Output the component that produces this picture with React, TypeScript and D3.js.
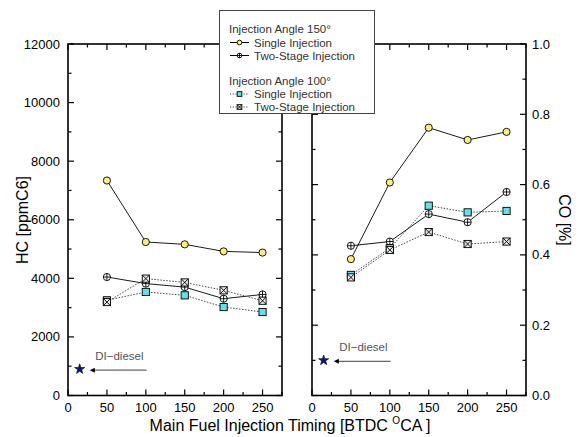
import React from "react";
import * as d3 from "d3";

const timings = [50, 100, 150, 200, 250];
const hcSingle150 = [7340, 5240, 5160, 4920, 4880];
const hcTwo150 = [4045, 3820, 3700, 3305, 3450];
const hcSingle100 = [3250, 3535, 3420, 3020, 2850];
const hcTwo100 = [3190, 3990, 3860, 3590, 3235];
const coSingle150 = [0.388, 0.606, 0.762, 0.727, 0.75];
const coTwo150 = [0.426, 0.438, 0.516, 0.493, 0.579];
const coSingle100 = [0.343, 0.419, 0.54, 0.521, 0.525];
const coTwo100 = [0.336, 0.414, 0.465, 0.431, 0.438];
const diesel = { x: 15, hc: 900, co: 0.1 };
const xTicks = [0, 50, 100, 150, 200, 250];
const hcTicks = [0, 2000, 4000, 6000, 8000, 10000, 12000];
const coTicks = [0, 0.2, 0.4, 0.6, 0.8, 1.0];

const FONT = "'Liberation Sans', Arial, sans-serif";
const W = 583, H = 437;
const top = 44, bottom = 395.5;

type Kind = "circle" | "circlePlus" | "square" | "squareX";

function Marker({ kind, x, y, s = 1 }: { kind: Kind; x: number; y: number; s?: number }) {
  const r = 3.6 * s;
  if (kind === "circle")
    return <circle cx={x} cy={y} r={r} fill="#f7f07a" stroke="#000" strokeWidth={0.9} />;
  if (kind === "circlePlus")
    return (
      <g>
        <circle cx={x} cy={y} r={r} fill="#fff" stroke="#000" strokeWidth={0.9} />
        <line x1={x - r} x2={x + r} y1={y} y2={y} stroke="#000" strokeWidth={0.9} />
        <line x1={x} x2={x} y1={y - r} y2={y + r} stroke="#000" strokeWidth={0.9} />
      </g>
    );
  if (kind === "square")
    return <rect x={x - r} y={y - r} width={2 * r} height={2 * r} fill="#5fe3e8" stroke="#000" strokeWidth={0.9} />;
  return (
    <g>
      <rect x={x - r} y={y - r} width={2 * r} height={2 * r} fill="#e8e8e8" stroke="#000" strokeWidth={0.9} />
      <line x1={x - r} x2={x + r} y1={y - r} y2={y + r} stroke="#000" strokeWidth={0.9} />
      <line x1={x - r} x2={x + r} y1={y + r} y2={y - r} stroke="#000" strokeWidth={0.9} />
    </g>
  );
}

function Panel({
  x0, x1, yMax, series, yTicks, minorStep, labelsLeft, star, fmt,
}: {
  x0: number; x1: number; yMax: number;
  series: { vals: number[]; kind: Kind; dotted: boolean }[];
  yTicks: number[]; minorStep: number; labelsLeft: boolean; star: number;
  fmt: (v: number) => string;
}) {
  const xs = d3.scaleLinear().domain([0, 275]).range([x0, x1]);
  const ys = d3.scaleLinear().domain([0, yMax]).range([bottom, top]);
  const line = d3.line<number>().x((_, i) => xs(timings[i])).y((v) => ys(v));
  const xMinor = d3.range(0, 276, 25);
  const yMinor = d3.range(0, yMax + minorStep / 2, minorStep);
  const els: React.ReactNode[] = [];
  xMinor.forEach((t, i) => {
    const major = t % 50 === 0;
    const len = major ? 6 : 3.5;
    els.push(<line key={"xb" + i} x1={xs(t)} x2={xs(t)} y1={bottom} y2={bottom - len} stroke="#000" strokeWidth={1.2} />);
    els.push(<line key={"xt" + i} x1={xs(t)} x2={xs(t)} y1={top} y2={top + len} stroke="#000" strokeWidth={1.2} />);
  });
  yMinor.forEach((t, i) => {
    const major = yTicks.some((m) => Math.abs(m - t) < 1e-9);
    const len = major ? 6 : 3.5;
    els.push(<line key={"yl" + i} x1={x0} x2={x0 + len} y1={ys(t)} y2={ys(t)} stroke="#000" strokeWidth={1.2} />);
    els.push(<line key={"yr" + i} x1={x1} x2={x1 - len} y1={ys(t)} y2={ys(t)} stroke="#000" strokeWidth={1.2} />);
  });
  return (
    <g>
      <rect x={x0} y={top} width={x1 - x0} height={bottom - top} fill="none" stroke="#000" strokeWidth={1.6} />
      {els}
      {xTicks.map((t) => (
        <text key={"xl" + t} x={xs(t)} y={412} textAnchor="middle" fontSize={13} fontFamily={FONT}>{t}</text>
      ))}
      {yTicks.map((t) => (
        <text key={"ylab" + t} x={labelsLeft ? x0 - 8 : x1 + 6} y={ys(t) + 4.5}
          textAnchor={labelsLeft ? "end" : "start"} fontSize={13} fontFamily={FONT}>{fmt(t)}</text>
      ))}
      {series.map((s, i) => (
        <path key={"p" + i} d={line(s.vals) || ""} fill="none"
          stroke={s.dotted ? "#444" : "#000"} strokeWidth={s.dotted ? 1 : 0.9}
          strokeDasharray={s.dotted ? "1.5,1.5" : undefined} />
      ))}
      {series.map((s, i) => (
        <g key={"m" + i}>
          {s.vals.map((v, j) => <Marker key={j} kind={s.kind} x={xs(timings[j])} y={ys(v)} />)}
        </g>
      ))}
      <path d={d3.symbol(d3.symbolStar, 32)() || ""} transform={`translate(${xs(diesel.x)},${ys(star)})`}
        fill="#10108a" stroke="#000" strokeWidth={0.6} />
      <line x1={xs(101)} x2={xs(30)} y1={ys(star) + 1} y2={ys(star) + 1} stroke="#666" strokeWidth={1.3} />
      <path d={`M${xs(28)},${ys(star) + 1} l5,-2.5 l0,5 z`} fill="#000" />
      <text x={xs(66)} y={ys(star) - 9} textAnchor="middle" fontSize={11.5} fill="#555" fontFamily={FONT}>DI−diesel</text>
    </g>
  );
}

export default function App() {
  const legendRows = [
    { y: 29, text: "Injection Angle 150°" },
    { y: 81, text: "Injection Angle 100°" },
  ];
  const legendItems: { y: number; kind: Kind; dotted: boolean; text: string }[] = [
    { y: 42.5, kind: "circle", dotted: false, text: "Single Injection" },
    { y: 55.5, kind: "circlePlus", dotted: false, text: "Two-Stage Injection" },
    { y: 94, kind: "square", dotted: true, text: "Single Injection" },
    { y: 107, kind: "squareX", dotted: true, text: "Two-Stage Injection" },
  ];
  return (
    <svg width={W} height={H} style={{ position: "absolute", left: 0, top: 0, background: "#fff" }}>
      <rect width={W} height={H} fill="#fff" />
      <Panel x0={68} x1={282} yMax={12000} yTicks={hcTicks} minorStep={1000} labelsLeft={true}
        star={diesel.hc} fmt={(v) => String(v)}
        series={[
          { vals: hcSingle150, kind: "circle", dotted: false },
          { vals: hcTwo150, kind: "circlePlus", dotted: false },
          { vals: hcSingle100, kind: "square", dotted: true },
          { vals: hcTwo100, kind: "squareX", dotted: true },
        ]} />
      <Panel x0={312} x1={526} yMax={1} yTicks={coTicks} minorStep={0.1} labelsLeft={false}
        star={diesel.co} fmt={(v) => v.toFixed(1)}
        series={[
          { vals: coSingle150, kind: "circle", dotted: false },
          { vals: coTwo150, kind: "circlePlus", dotted: false },
          { vals: coSingle100, kind: "square", dotted: true },
          { vals: coTwo100, kind: "squareX", dotted: true },
        ]} />
      <text transform="translate(28,220) rotate(-90)" textAnchor="middle" fontSize={16} fontFamily={FONT}>HC [ppmC6]</text>
      <text transform="translate(559,220) rotate(90)" textAnchor="middle" fontSize={16} fontFamily={FONT}>CO [%]</text>
      <text x={290} y={431} textAnchor="middle" fontSize={16} fontFamily={FONT}>
        Main Fuel Injection Timing [BTDC <tspan fontSize={10} dy={-7}>O</tspan><tspan dy={7}>CA ]</tspan>
      </text>
      <rect x={219.5} y={10.5} width={155} height={103} fill="#fff" stroke="#444" strokeWidth={1} />
      {legendRows.map((r) => (
        <text key={r.text} x={229} y={r.y + 4} fontSize={11.5} fill="#333" fontFamily={FONT}>{r.text}</text>
      ))}
      {legendItems.map((it, i) => (
        <g key={i}>
          <line x1={230} x2={249} y1={it.y} y2={it.y} stroke={it.dotted ? "#444" : "#000"} strokeWidth={1}
            strokeDasharray={it.dotted ? "1.2,1.5" : undefined} />
          <Marker kind={it.kind} x={239.5} y={it.y} s={0.65} />
          <text x={254} y={it.y + 4} fontSize={11.5} fill="#333" fontFamily={FONT}>{it.text}</text>
        </g>
      ))}
    </svg>
  );
}
